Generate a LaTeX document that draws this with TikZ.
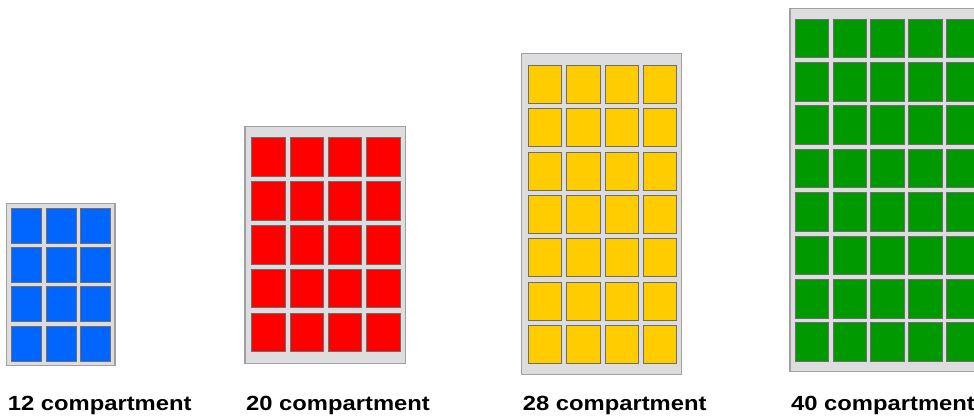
\documentclass[tikz,border=0pt]{standalone}
\usepackage{fontspec}
\setmainfont{Liberation Sans}[FakeStretch=1.16]

\definecolor{cellblue}{HTML}{0066FF}
\definecolor{cellred}{HTML}{FF0000}
\definecolor{cellyellow}{HTML}{FFCC00}
\definecolor{cellgreen}{HTML}{009900}
\definecolor{framegray}{HTML}{DDDDE0}
\definecolor{frameedge}{HTML}{A0A0A0}
\definecolor{celledge}{HTML}{6E6E6E}

\tikzset{
	boxframe/.style={fill=framegray, draw=frameedge, line width=1.2pt},
	cell/.style={draw=celledge, line width=0.7pt},
	countlabel/.style={anchor=base west, inner sep=0pt, font=\fontsize{20.5}{24}\selectfont\bfseries},
}

\begin{document}
\begin{tikzpicture}[x=1pt, y=-1pt]

\useasboundingbox (0,0) rectangle (974,415);
\clip (0,0) rectangle (974,415);

% frame, first cell, pitch, cell size, columns, rows
\foreach \fx/\fy/\fw/\fh/\cx/\cy/\sx/\sy/\w/\h/\nc/\nr/\col/\num in {
	6.7/203.3/108.3/162.4/11.7/208.3/34.2/39.2/30/35/3/4/cellblue/12,
	245/126.7/160.7/236.6/251.7/137.7/38.3/43.8/33.4/38.6/4/5/cellred/20,
	521.7/53.3/160/321/528.3/65/38.3/43.45/33.3/38/4/7/cellyellow/28,
	790/8.3/195/363.4/795/19/37.9/43.4/33.3/38.5/5/8/cellgreen/40}{
	\draw[boxframe] (\fx, \fy) rectangle ++(\fw, \fh);
	\foreach \i in {1,...,\nc}{
		\foreach \j in {1,...,\nr}{
			\draw[cell, fill=\col] (\cx+\i*\sx-\sx, \cy+\j*\sy-\sy) rectangle ++(\w, \h);
		}
	}
	\node[countlabel] (lab\num) at (\fx+1, 410.5) {\num\ compartment};
}

\end{tikzpicture}
\end{document}
